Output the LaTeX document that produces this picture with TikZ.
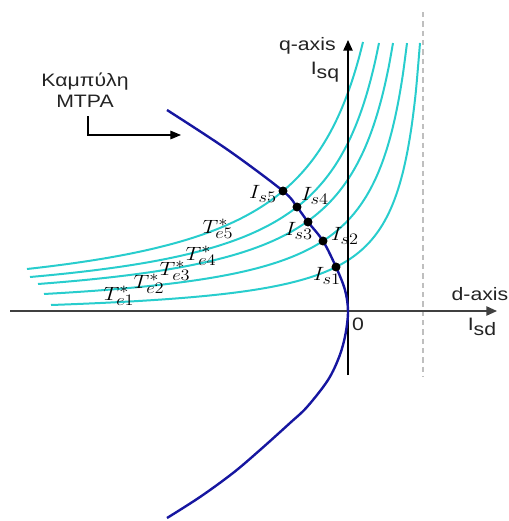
\documentclass[tikz,border=0pt]{standalone}
\usepackage{fontspec}
\setsansfont{Liberation Sans}
\usetikzlibrary{arrows.meta}
\DeclareMathSizes{14.4}{14.4}{12}{10}
\definecolor{torq}{RGB}{40,205,205}
\definecolor{mtpa}{RGB}{22,22,160}
\definecolor{txt}{RGB}{35,35,35}
\begin{document}
\begin{tikzpicture}[x=0.75pt,y=-0.75pt,
  torque/.style={torq, line width=1.5pt},
  mtpacurve/.style={mtpa, line width=1.8pt},
  axisline/.style={line width=1.1pt, -{Triangle[length=8pt,width=7pt]}},
  dot/.style={circle, fill=black, inner sep=0pt, minimum size=6.5pt},
  mlabel/.style={font=\fontsize{14.4}{17}\selectfont, inner sep=0pt, xscale=1.15},
  slabel/.style={font=\sffamily\fontsize{13.5}{16}\selectfont, text=txt, inner sep=0pt, xscale=1.18}]
\useasboundingbox (0,0) rectangle (508,521);

% dashed asymptote
\coordinate (dtop) at (423,12);
\coordinate (dbot) at (423,377);
\draw[black!25, line width=1.1pt, dash pattern=on 4pt off 3pt] (dtop) -- (dbot);

% torque curves  (pixel y = 311 - Y)
\draw[torque, domain=51:420, samples=90, smooth] plot (\x, {311 - (-7.79 + 53.56/((439.42-\x)/100))});
\draw[torque, domain=44:407, samples=90, smooth] plot (\x, {311 - (-5.0 + 86.875/((438.83-\x)/100))});
\draw[torque, domain=38:393, samples=90, smooth] plot (\x, {311 - (-3.22 + 120.74/((437.52-\x)/100))});
\draw[torque, domain=30:379, samples=90, smooth] plot (\x, {311 - (-1.30 + 141.79/((431.65-\x)/100))});
\draw[torque, domain=27:363, samples=90, smooth] plot (\x, {311 - (-2.40 + 178.36/((428.72-\x)/100))});

% axes
\coordinate (dL) at (10,311);
\coordinate (dR) at (497,311);
\coordinate (qB) at (348,375);
\coordinate (qT) at (348,40);
\draw[axisline, black!75] (dL) -- (dR);
\draw[axisline, black] (qB) -- (qT);

% MTPA curve and operating points
\coordinate (m0) at (167,110);
\coordinate (m1) at (228,150);
\node[dot] (s5) at (283,191) {};
\node[dot] (s4) at (297,207) {};
\node[dot] (s3) at (308,222) {};
\node[dot] (s2) at (323,241) {};
\node[dot] (s1) at (336,267) {};
\coordinate (m2) at (345,290);
\coordinate (m3) at (348,311);
\coordinate (m4) at (345.5,334);
\coordinate (m5) at (339.5,356);
\coordinate (m6) at (328,380);
\coordinate (m7) at (307,407);
\coordinate (m8) at (290,423);
\coordinate (m9) at (260,450);
\coordinate (m10) at (233,473);
\coordinate (m11) at (200,497);
\coordinate (m12) at (167,518);
\draw[mtpacurve] plot[smooth, tension=0.55] coordinates {(m0) (m1) (s5.center) (s4.center) (s3.center) (s2.center) (s1.center) (m2) (m3) (m4) (m5) (m6) (m7) (m8) (m9) (m10) (m11) (m12)};
\foreach \p in {s1,s2,s3,s4,s5} \node[dot] at (\p) {};

% point labels
\node[mlabel] (l5) at (263,194) {$I_{s5}$};
\node[mlabel] (l4) at (315,196) {$I_{s4}$};
\node[mlabel] (l3) at (299,231) {$I_{s3}$};
\node[mlabel] (l2) at (345,236) {$I_{s2}$};
\node[mlabel] (l1) at (327,276) {$I_{s1}$};

% torque labels
\node[mlabel] (t5) at (218,229) {$T^*_{e5}$};
\node[mlabel] (t4) at (201,256) {$T^*_{e4}$};
\node[mlabel] (t3) at (175,271) {$T^*_{e3}$};
\node[mlabel] (t2) at (149,284) {$T^*_{e2}$};
\node[mlabel] (t1) at (119,296) {$T^*_{e1}$};

% axis labels
\node[slabel, anchor=east] (qlab) at (336,46) {q-axis};
\node[slabel] (isq) at (325,72) {I\raisebox{-0.45ex}{sq}};
\node[slabel] (dlab) at (480,294) {d-axis};
\node[slabel] (isd) at (482,327) {I\raisebox{-0.45ex}{sd}};
\node[slabel] (zero) at (358,324) {0};

% MTPA caption and arrow
\node[slabel, align=center] (cap) at (85,90) {Καμπύλη\\MTPA};
\coordinate (a0) at (88,116);
\coordinate (a1) at (181,135);
\draw[line width=0.8pt, -{Triangle[length=8pt,width=6.5pt]}] (a0) |- (a1);
\end{tikzpicture}
\end{document}
